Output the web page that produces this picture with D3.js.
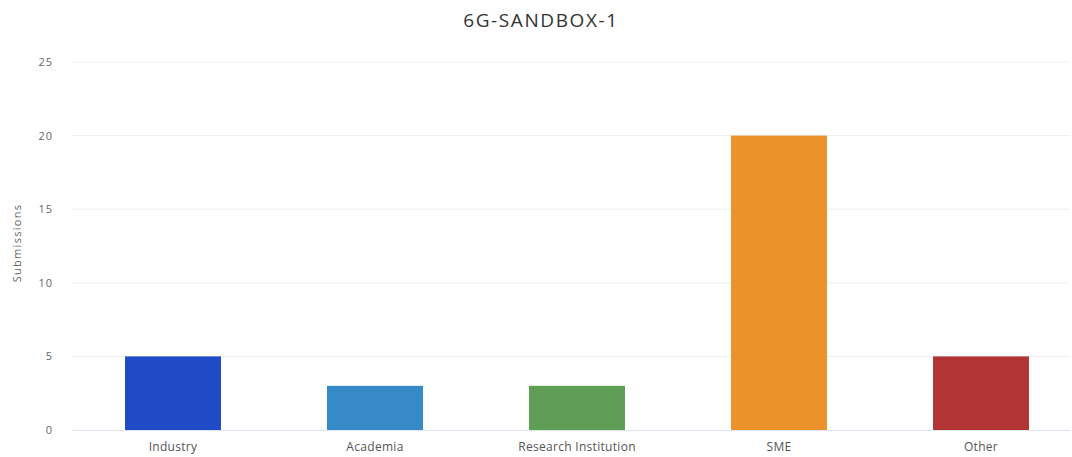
<!DOCTYPE html>
<html>
<head>
<meta charset="utf-8">
<script src="https://cdn.jsdelivr.net/npm/d3@7"></script>
<style>
  body { margin: 0; background: #fff; }
  svg { font-family: "Open Sans", "DejaVu Sans", sans-serif; }
</style>
</head>
<body>
<div id="chart"></div>
<script>
const categories = ["Industry", "Academia", "Research Institution", "SME", "Other"];
const submissions = [5, 3, 3, 20, 5];
const barColors = ["#1f4bc7", "#378ac8", "#5f9f55", "#ec922b", "#b23434"];
const yTicks = [0, 5, 10, 15, 20, 25];

const width = 1072, height = 457;
const margin = { top: 62, right: -10, bottom: 27, left: 72 };

const svg = d3.select("#chart").append("svg")
  .attr("width", width)
  .attr("height", height);

// Title
svg.append("text")
  .attr("x", 541)
  .attr("y", 27)
  .attr("text-anchor", "middle")
  .attr("fill", "#333")
  .style("font-size", "19px")
  .style("letter-spacing", "1.6px")
  .text("6G-SANDBOX-1");

const x = d3.scaleBand()
  .domain(categories)
  .range([margin.left, width - margin.right])
  .paddingInner(0.525)
  .paddingOuter(0.2625);

const y = d3.scaleLinear()
  .domain([0, 25])
  .range([height - margin.bottom, margin.top]);

// Gridlines
svg.append("g")
  .selectAll("line")
  .data(yTicks.filter(d => d > 0))
  .join("line")
  .attr("x1", margin.left)
  .attr("x2", 1070)
  .attr("y1", d => y(d))
  .attr("y2", d => y(d))
  .attr("stroke", "#efefef");

// Y axis labels
const yAxis = svg.append("g")
  .attr("transform", `translate(${margin.left - 19},0)`)
  .call(d3.axisLeft(y).tickValues(yTicks).tickSize(0).tickPadding(0));
yAxis.select(".domain").remove();
yAxis.selectAll("text")
  .attr("fill", "#666")
  .style("font-size", "11px")
  .style("letter-spacing", "1px")
  .style("font-family", "'Open Sans', sans-serif");

// Bars
svg.append("g")
  .selectAll("rect")
  .data(categories)
  .join("rect")
  .attr("x", d => x(d))
  .attr("y", (d, i) => y(submissions[i]))
  .attr("width", x.bandwidth())
  .attr("height", (d, i) => y(0) - y(submissions[i]))
  .attr("fill", (d, i) => barColors[i]);

// Baseline
svg.append("line")
  .attr("x1", margin.left)
  .attr("x2", 1070)
  .attr("y1", y(0) + 0.5)
  .attr("y2", y(0) + 0.5)
  .attr("stroke", "#dfe5f0");

// X axis labels
const xAxis = svg.append("g")
  .attr("transform", `translate(0,${y(0)})`)
  .call(d3.axisBottom(x).tickSize(0).tickPadding(12));
xAxis.select(".domain").remove();
xAxis.selectAll("text")
  .attr("fill", "#555")
  .style("font-size", "12px")
  .style("letter-spacing", "0.3px")
  .style("font-family", "'Open Sans', sans-serif");

// Y axis title
svg.append("text")
  .attr("transform", "rotate(-90)")
  .attr("x", -243)
  .attr("y", 21)
  .attr("text-anchor", "middle")
  .attr("fill", "#666")
  .style("font-size", "11px")
  .style("letter-spacing", "1.3px")
  .text("Submissions");
</script>
</body>
</html>
